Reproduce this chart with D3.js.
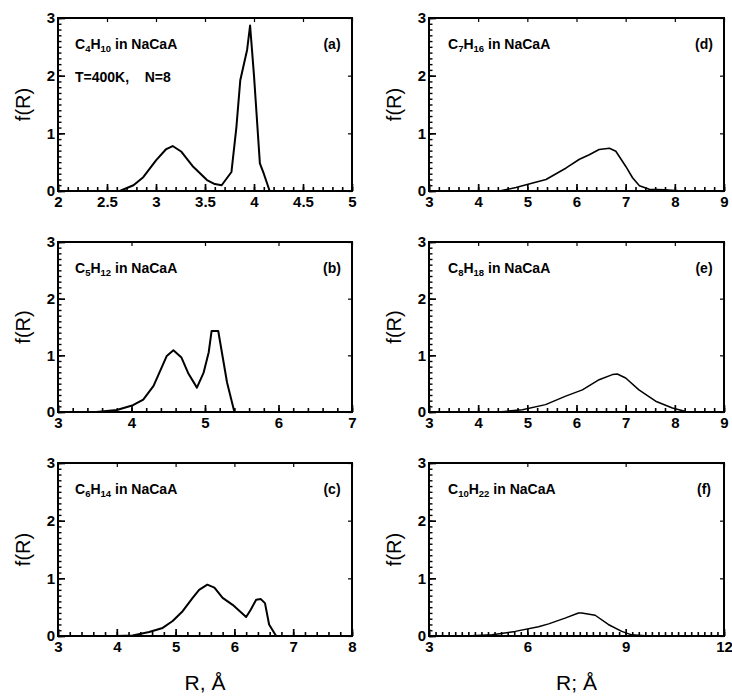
<!DOCTYPE html>
<html><head><meta charset="utf-8">
<script src="https://cdn.jsdelivr.net/npm/d3@7"></script>
<style>
body{margin:0;background:#fff;}
svg{display:block;}
.tick text{font-family:"Liberation Sans",Arial,sans-serif;font-weight:bold;font-size:15px;fill:#000;}
</style></head>
<body>
<svg id="chart" width="732" height="698"></svg>
<script>
// ---- data ----
const aR = [2.5, 2.63, 2.77, 2.87, 3.0, 3.1, 3.17, 3.26, 3.38, 3.52, 3.6, 3.67, 3.77, 3.82, 3.86, 3.93, 3.96, 4.0, 4.06, 4.1, 4.16, 4.3];
const aF = [0, 0, 0.1, 0.24, 0.53, 0.72, 0.78, 0.68, 0.42, 0.19, 0.12, 0.1, 0.33, 1.1, 1.92, 2.45, 2.87, 2.0, 0.48, 0.3, 0, 0];

const bR = [3.3, 3.52, 3.8, 4.02, 4.16, 4.3, 4.48, 4.57, 4.68, 4.77, 4.89, 4.98, 5.05, 5.09, 5.18, 5.3, 5.4, 5.6];
const bF = [0, 0, 0.035, 0.12, 0.22, 0.46, 0.99, 1.09, 0.96, 0.69, 0.43, 0.69, 1.05, 1.43, 1.43, 0.52, 0, 0];

const cR = [4.0, 4.27, 4.55, 4.78, 4.95, 5.12, 5.29, 5.4, 5.54, 5.66, 5.8, 5.97, 6.2, 6.28, 6.37, 6.45, 6.52, 6.59, 6.71, 6.9];
const cF = [0, 0.01, 0.07, 0.14, 0.26, 0.43, 0.66, 0.8, 0.89, 0.84, 0.66, 0.54, 0.33, 0.46, 0.63, 0.64, 0.57, 0.2, 0, 0];

const dR = [4.2, 4.43, 4.77, 5.11, 5.38, 5.79, 6.06, 6.26, 6.46, 6.67, 6.8, 7.0, 7.14, 7.28, 7.48, 7.8, 8.15];
const dF = [0, 0, 0.06, 0.14, 0.2, 0.4, 0.55, 0.63, 0.72, 0.74, 0.69, 0.43, 0.23, 0.09, 0.03, 0.02, 0];

const eR = [4.2, 4.42, 4.9, 5.37, 5.78, 6.12, 6.46, 6.73, 6.83, 7.0, 7.27, 7.61, 7.95, 8.22, 8.49];
const eF = [0, 0, 0.04, 0.13, 0.28, 0.39, 0.57, 0.66, 0.67, 0.6, 0.39, 0.19, 0.07, 0.01, 0];

const fR = [4.0, 4.11, 4.93, 5.63, 6.34, 6.65, 7.15, 7.56, 7.66, 8.07, 8.47, 8.88, 9.18, 9.69];
const fF = [0, 0, 0.02, 0.08, 0.16, 0.21, 0.31, 0.4, 0.4, 0.36, 0.2, 0.08, 0.02, 0];

const yTicks = [0, 1, 2, 3];
const aXTicks = [2, 2.5, 3, 3.5, 4, 4.5, 5];
const bXTicks = [3, 4, 5, 6, 7];
const cXTicks = [3, 4, 5, 6, 7, 8];
const dXTicks = [3, 4, 5, 6, 7, 8, 9];
const eXTicks = [3, 4, 5, 6, 7, 8, 9];
const fXTicks = [3, 6, 9, 12];

const panelLetters = ["(a)", "(b)", "(c)", "(d)", "(e)", "(f)"];
const molecules = [["C","4","H","10"],["C","5","H","12"],["C","6","H","14"],["C","7","H","16"],["C","8","H","18"],["C","10","H","22"]];

// ---- layout ----
const cols = [{x0: 58, x1: 352}, {x0: 429, x1: 724}];
const rows = [{y0: 18, y1: 191}, {y0: 242, y1: 412}, {y0: 463, y1: 636}];

const panels = [
  {R: aR, F: aF, ticks: aXTicks, minor: 0.1, col: 0, row: 0, sw: 2},
  {R: bR, F: bF, ticks: bXTicks, minor: 0.2, col: 0, row: 1, sw: 2},
  {R: cR, F: cF, ticks: cXTicks, minor: 0.2, col: 0, row: 2, sw: 2},
  {R: dR, F: dF, ticks: dXTicks, minor: 0.2, col: 1, row: 0, sw: 1.6},
  {R: eR, F: eF, ticks: eXTicks, minor: 0.2, col: 1, row: 1, sw: 1.5},
  {R: fR, F: fF, ticks: fXTicks, minor: 0.2, col: 1, row: 2, sw: 1.5}
];

const svg = d3.select("#chart");
const font = '"Liberation Sans", Arial, sans-serif';

function range(a, b, s) {
  const out = [];
  const n = Math.round((b - a) / s);
  for (let i = 0; i <= n; i++) out.push(+(a + i * s).toFixed(4));
  return out;
}

panels.forEach((p, i) => {
  const c = cols[p.col], r = rows[p.row];
  const xDom = [p.ticks[0], p.ticks[p.ticks.length - 1]];
  const x = d3.scaleLinear().domain(xDom).range([c.x0, c.x1]);
  const y = d3.scaleLinear().domain([0, 3]).range([r.y1, r.y0]);
  const g = svg.append("g");

  // minor ticks
  const minorX = range(xDom[0], xDom[1], p.minor);
  g.append("g").attr("transform", `translate(0,${r.y1})`)
    .call(d3.axisBottom(x).tickValues(minorX).tickSize(-4).tickFormat(""))
    .call(s => s.select(".domain").remove())
    .call(s => s.selectAll("line").attr("stroke-width", 1.6));
  g.append("g").attr("transform", `translate(${c.x0},0)`)
    .call(d3.axisLeft(y).tickValues(range(0, 3, 0.1)).tickSize(-3.5).tickFormat(""))
    .call(s => s.select(".domain").remove())
    .call(s => s.selectAll("line").attr("stroke-width", 1.4));

  // major ticks + labels
  const fmt = v => String(v);
  g.append("g").attr("transform", `translate(0,${r.y1})`)
    .call(d3.axisBottom(x).tickValues(p.ticks).tickSize(-7).tickPadding(5).tickFormat(fmt))
    .call(s => s.select(".domain").remove())
    .call(s => s.selectAll("line").attr("stroke-width", 1.7));
  g.append("g").attr("transform", `translate(${c.x0},0)`)
    .call(d3.axisLeft(y).tickValues(yTicks).tickSize(-7).tickPadding(3).tickFormat(d3.format("d")))
    .call(s => s.select(".domain").remove())
    .call(s => s.selectAll("line").attr("stroke-width", 1.7));
  // top & right small ticks
  g.append("g").attr("transform", `translate(0,${r.y0})`)
    .call(d3.axisTop(x).tickValues(p.ticks).tickSize(-4).tickFormat(""))
    .call(s => s.select(".domain").remove())
    .call(s => s.selectAll("line").attr("stroke-width", 1.2));
  g.append("g").attr("transform", `translate(${c.x1},0)`)
    .call(d3.axisRight(y).tickValues(yTicks).tickSize(-4).tickFormat(""))
    .call(s => s.select(".domain").remove())
    .call(s => s.selectAll("line").attr("stroke-width", 1.2));

  // frame
  g.append("rect").attr("x", c.x0).attr("y", r.y0)
    .attr("width", c.x1 - c.x0).attr("height", r.y1 - r.y0)
    .attr("fill", "none").attr("stroke", "#000").attr("stroke-width", 2);

  // curve
  const pts = p.R.map((v, k) => [v, p.F[k]]);
  g.append("path").datum(pts)
    .attr("d", d3.line().x(d => x(d[0])).y(d => y(d[1])))
    .attr("fill", "none").attr("stroke", "#000")
    .attr("stroke-width", p.sw).attr("stroke-linejoin", "round");

  // molecule label
  const tx = p.col === 0 ? c.x0 + 17 : c.x0 + 19;
  const ty = r.y0 + 31;
  const m = molecules[i];
  const t = g.append("text").attr("x", tx).attr("y", ty)
    .attr("font-family", font).attr("font-weight", "bold").attr("font-size", 14);
  t.append("tspan").text(m[0]);
  t.append("tspan").attr("font-size", 9.5).attr("dy", 3).text(m[1]);
  t.append("tspan").attr("dy", -3).text(m[2]);
  t.append("tspan").attr("font-size", 9.5).attr("dy", 3).text(m[3]);
  t.append("tspan").attr("dy", -3).text(" in NaCaA");

  // panel letter
  g.append("text").attr("x", c.x1 - 20).attr("y", ty)
    .attr("text-anchor", "middle")
    .attr("font-family", font).attr("font-weight", "bold").attr("font-size", 14)
    .text(panelLetters[i]);

  // y label
  const cy = (r.y0 + r.y1) / 2;
  g.append("text")
    .attr("transform", `translate(${c.x0 - 28},${cy}) rotate(-90)`)
    .attr("text-anchor", "middle")
    .attr("font-family", font).attr("font-size", 20)
    .text("f(R)");

  if (i === 0) {
    g.append("text").attr("x", tx).attr("y", r.y0 + 64)
      .attr("font-family", font).attr("font-weight", "bold").attr("font-size", 14)
      .attr("xml:space", "preserve")
      .text("T=400K,    N=8");
  }
});

// x axis titles
svg.append("text").attr("x", (cols[0].x0 + cols[0].x1) / 2).attr("y", 690)
  .attr("text-anchor", "middle").attr("font-family", font).attr("font-size", 21)
  .text("R, Å");
svg.append("text").attr("x", (cols[1].x0 + cols[1].x1) / 2).attr("y", 690)
  .attr("text-anchor", "middle").attr("font-family", font).attr("font-size", 21)
  .text("R; Å");
</script>
</body></html>
